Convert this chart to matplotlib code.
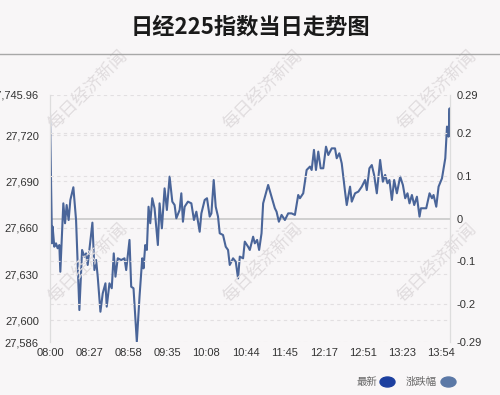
import matplotlib
matplotlib.use("Agg")
import matplotlib.pyplot as plt
from matplotlib.patches import Ellipse
from matplotlib.lines import Line2D

# ---------------- data ----------------
title = "日经225指数当日走势图"
prev_close = 27665.98
y_min, y_max = 27586.0, 27745.96

time_labels = ["08:00", "08:27", "08:58", "09:35", "10:08", "10:44",
               "11:45", "12:17", "12:51", "13:23", "13:54"]
label_step = 39.0   # sample positions between time labels

# position along the time axis (sample units) and index value
pos = [0.0, 2.0, 2.6, 4.3, 6.0, 7.6, 9.3, 10.3, 13.3, 15.0, 16.6, 18.6, 20.3, 23.3, 26.0,
       29.3, 32.0, 34.3, 36.0, 37.6, 40.0, 42.3, 44.3, 46.0, 47.6, 50.3, 52.6, 55.3, 56.6,
       59.3, 61.6, 63.6, 65.3, 67.6, 71.0, 74.3, 76.0, 79.3, 81.0, 83.3, 86.6, 89.3, 92.0,
       93.3, 95.0, 96.6, 98.3, 100.0, 102.0, 104.3, 107.6, 109.3, 111.6, 114.3, 116.6, 119.3,
       122.0, 124.3, 126.0, 129.3, 131.0, 132.6, 134.3, 137.6, 141.0, 143.6, 146.0, 149.3,
       151.0, 154.3, 156.6, 159.3, 161.0, 163.3, 165.3, 167.6, 169.3, 172.6, 175.3, 177.6,
       179.3, 182.6, 185.3, 187.6, 189.3, 192.6, 194.3, 197.6, 199.3, 202.6, 204.3, 206.6,
       208.6, 211.0, 212.6, 217.6, 221.0, 224.3, 226.0, 228.3, 231.0, 234.3, 237.6, 241.0,
       244.3, 247.6, 249.3, 252.6, 256.0, 259.3, 261.0, 263.3, 265.3, 267.6, 270.0, 272.6,
       275.3, 277.6, 281.0, 284.3, 286.0, 288.6, 291.0, 294.3, 296.0, 299.3, 301.0, 304.3,
       307.6, 311.0, 314.3, 316.0, 318.6, 321.0, 323.3, 326.0, 329.3, 332.0, 334.3, 336.6,
       338.6, 341.0, 343.3, 346.0, 349.3, 352.0, 354.3, 356.6, 358.6, 361.0, 363.3, 366.0,
       368.6, 370.0, 372.6, 375.3, 378.6, 381.0, 382.6, 385.3, 387.6, 391.0, 394.3, 396.0,
       397.6, 398.6, 399.0]
value = [27733.4, 27649.9, 27660.7, 27647.7, 27649.9, 27646.7, 27648.8, 27631.5, 27675.8,
         27662.9, 27674.7, 27665.0, 27678.0, 27686.2, 27665.0, 27606.7, 27645.6, 27641.3,
         27643.4, 27635.9, 27649.9, 27663.3, 27632.6, 27639.1, 27628.3, 27605.6, 27617.5,
         27624.0, 27608.9, 27624.0, 27620.8, 27643.4, 27628.3, 27640.2, 27639.1, 27640.2,
         27632.6, 27652.1, 27621.8, 27620.8, 27586.2, 27615.4, 27640.2, 27633.7, 27648.8,
         27645.6, 27673.6, 27662.9, 27679.1, 27672.6, 27648.8, 27675.8, 27659.6, 27685.5,
         27671.5, 27693.1, 27676.9, 27674.7, 27666.1, 27671.5, 27682.3, 27663.9, 27673.6,
         27676.9, 27675.8, 27665.0, 27670.4, 27657.4, 27669.3, 27678.0, 27679.1, 27667.2,
         27669.3, 27690.9, 27673.6, 27667.2, 27656.4, 27655.3, 27647.7, 27645.6, 27635.9,
         27640.2, 27638.0, 27627.2, 27641.3, 27640.2, 27651.0, 27647.7, 27645.6, 27654.2,
         27649.9, 27652.1, 27645.6, 27656.4, 27675.8, 27687.7, 27680.1, 27672.6, 27670.4,
         27663.9, 27668.3, 27665.0, 27669.3, 27669.3, 27668.3, 27681.2, 27679.1, 27682.3,
         27697.4, 27699.6, 27697.4, 27710.4, 27697.4, 27709.3, 27698.5, 27698.5, 27712.5,
         27707.1, 27711.4, 27711.4, 27705.0, 27708.2, 27701.7, 27683.4, 27674.7, 27686.6,
         27676.9, 27682.3, 27683.4, 27686.6, 27690.9, 27684.4, 27698.5, 27700.6, 27694.2,
         27682.3, 27703.9, 27689.8, 27694.2, 27688.8, 27690.9, 27678.0, 27690.9, 27682.3,
         27693.1, 27687.7, 27679.1, 27682.3, 27675.8, 27681.2, 27674.7, 27680.1, 27667.2,
         27672.6, 27672.6, 27672.6, 27682.3, 27679.1, 27681.2, 27673.6, 27686.6, 27692.0,
         27705.0, 27725.5, 27719.0, 27737.3, 27720.0]

left_ticks = [27586, 27600, 27630, 27660, 27690, 27720, 27745.96]
left_labels = ["27,586", "27,600", "27,630", "27,660", "27,690", "27,720", "27,745.96"]
right_ticks = [-0.29, -0.2, -0.1, 0, 0.1, 0.2, 0.29]
right_labels = ["-0.29", "-0.2", "-0.1", "0", "0.1", "0.2", "0.29"]

legend_names = ["最新", "涨跌幅"]
legend_colors = ["#1c3f9f", "#5b78a6"]
watermark = "每日经济新闻"

# ---------------- style ----------------
BG = "#f8f6f7"
LINE = "#4a6599"
CJK = ["Noto Sans CJK SC", "DejaVu Sans"]
NUM = ["Liberation Sans", "DejaVu Sans"]

fig = plt.figure(figsize=(5.0, 3.95), dpi=100, facecolor=BG)
W, H = 500.0, 395.0

# title and separator
fig.text(0.5, 1 - 27 / H, title, ha="center", va="center", fontsize=16,
         fontweight="bold", family=CJK, color="#1a1a1a")
fig.add_artist(Line2D([0, 1], [1 - 54 / H, 1 - 54 / H], transform=fig.transFigure,
                      color="#a8a8a8", lw=1.0))

# watermarks
for cx in (88, 263, 437):
    for cy in (90, 263):
        fig.text(cx / W, 1 - cy / H, watermark, rotation=45, ha="center", va="center",
                 fontsize=12.5, family=CJK, color="#e0dcde", zorder=0)

ax = fig.add_axes([50 / W, 1 - 342 / H, 400 / W, 247 / H])
ax.set_facecolor("none")
ax.set_xlim(0, 399)
ax.set_ylim(y_min, y_max)

# right axis (percent change)
ax2 = ax.twinx()
pct_lo = (y_min / prev_close - 1) * 100
pct_hi = (y_max / prev_close - 1) * 100
ax2.set_ylim(pct_lo, pct_hi)

# gridlines for both axes
grid_kw = dict(color="#e2dfe1", lw=0.8, ls=(0, (3, 3)), zorder=1)
for t in left_ticks[1:-1]:
    ax.axhline(t, **grid_kw)
for t in right_ticks[1:-1]:
    if t != 0:
        ax2.axhline(t, **grid_kw)
ax.axhline(y_max, **grid_kw)
ax.axhline(y_min, **grid_kw)
ax.axhline(prev_close, color="#cccccc", lw=1.3, zorder=2)

ax.plot(pos, value, color=LINE, lw=1.5, zorder=3, solid_joinstyle="round")

# ticks
ax.set_yticks(left_ticks)
ax.set_yticklabels(left_labels)
ax.set_xticks([i * label_step for i in range(len(time_labels))])
ax.set_xticklabels(time_labels)
rt = [pct_lo, -0.2, -0.1, 0, 0.1, 0.2, pct_hi]
ax2.set_yticks(rt)
ax2.set_yticklabels(right_labels)

ax.tick_params(axis="y", length=0, pad=8, labelsize=8, labelcolor="#333333")
ax.tick_params(axis="x", length=0, pad=4, labelsize=8, labelcolor="#333333")
ax2.tick_params(axis="y", length=0, pad=5, labelsize=8, labelcolor="#333333")
for a in (ax, ax2):
    for lab in a.get_xticklabels() + a.get_yticklabels():
        lab.set_family(NUM)
    for s in ("top", "bottom"):
        a.spines[s].set_visible(False)
    a.spines["left"].set_color("#dddddd")
    a.spines["right"].set_color("#dddddd")

# legend (bottom right)
ly = 1 - 382 / H
fig.text(377 / W, ly, legend_names[0], ha="right", va="center", fontsize=7.5,
         family=CJK, color="#666666")
fig.add_artist(Ellipse((387.5 / W, ly), 15 / W, 10 / H, transform=fig.transFigure,
                       color=legend_colors[0]))
fig.text(437 / W, ly, legend_names[1], ha="right", va="center", fontsize=7.5,
         family=CJK, color="#666666")
fig.add_artist(Ellipse((448.5 / W, ly), 15 / W, 10 / H, transform=fig.transFigure,
                       color=legend_colors[1]))

fig.savefig("out.png", dpi=100, facecolor=BG)
